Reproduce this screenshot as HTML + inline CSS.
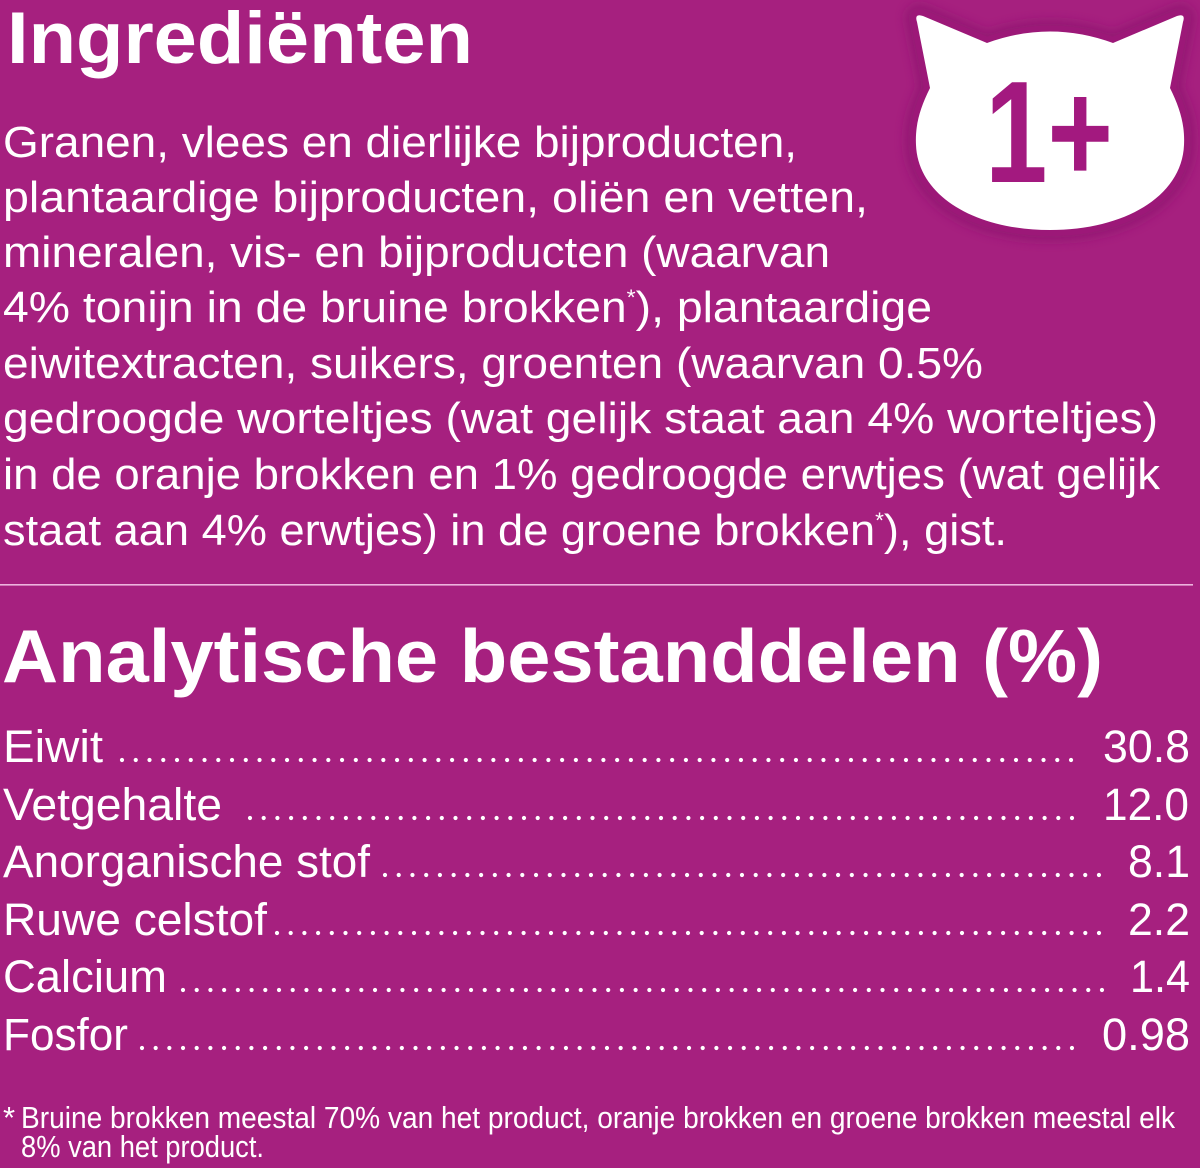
<!DOCTYPE html>
<html>
<head>
<meta charset="utf-8">
<style>
  html, body { margin: 0; padding: 0; background: #A6207F; }
  body { width: 1200px; height: 1168px; overflow: hidden; }
  svg { display: block; }
  text { font-family: "Liberation Sans", "DejaVu Sans", sans-serif; fill: #ffffff; }
</style>
</head>
<body>
<svg width="1200" height="1168" viewBox="0 0 1200 1168" xmlns="http://www.w3.org/2000/svg">
  <defs>
    <filter id="glow" x="-20%" y="-20%" width="140%" height="140%">
      <feGaussianBlur stdDeviation="5"/>
    </filter>
  </defs>
  <rect x="0" y="0" width="1200" height="1168" fill="#A6207F"/>

  <!-- Cat icon -->
  <path d="M 917 22 Q 914 13 923 16 L 987 43 Q 1050 20 1113 43 L 1177 16 Q 1186 13 1183 22 L 1170 88 C 1180 108 1185 125 1184 145 C 1182 196 1125 230 1050 230 C 975 230 918 196 916 145 C 915 125 920 108 930 88 Z"
        fill="none" stroke="#8E1270" stroke-width="22" stroke-linejoin="round" opacity="0.75" filter="url(#glow)"/>
  <path d="M 917 22 Q 914 13 923 16 L 987 43 Q 1050 20 1113 43 L 1177 16 Q 1186 13 1183 22 L 1170 88 C 1180 108 1185 125 1184 145 C 1182 196 1125 230 1050 230 C 975 230 918 196 916 145 C 915 125 920 108 930 88 Z"
        fill="none" stroke="#9C1878" stroke-width="12" stroke-linejoin="round"/>
  <path d="M 917 22 Q 914 13 923 16 L 987 43 Q 1050 20 1113 43 L 1177 16 Q 1186 13 1183 22 L 1170 88 C 1180 108 1185 125 1184 145 C 1182 196 1125 230 1050 230 C 975 230 918 196 916 145 C 915 125 920 108 930 88 Z"
        fill="#ffffff"/>
  <text x="985" y="182" font-size="145" font-weight="bold" textLength="128" lengthAdjust="spacingAndGlyphs" style="fill:#A3197F">1+</text>

  <!-- Title -->
  <text x="7" y="63" font-size="73" font-weight="bold" textLength="466" lengthAdjust="spacingAndGlyphs">Ingrediënten</text>

  <!-- Ingredients body -->
  <g font-size="44">
    <text x="3" y="157" textLength="794" lengthAdjust="spacingAndGlyphs">Granen, vlees en dierlijke bijproducten,</text>
    <text x="3" y="212" textLength="865" lengthAdjust="spacingAndGlyphs">plantaardige bijproducten, oliën en vetten,</text>
    <text x="3" y="267" textLength="827" lengthAdjust="spacingAndGlyphs">mineralen, vis- en bijproducten (waarvan</text>
    <text x="3" y="322" textLength="929" lengthAdjust="spacingAndGlyphs">4% tonijn in de bruine brokken<tspan font-size="22" dy="-17">*</tspan><tspan dy="17">), plantaardige</tspan></text>
    <text x="3" y="378" textLength="980" lengthAdjust="spacingAndGlyphs">eiwitextracten, suikers, groenten (waarvan 0.5%</text>
    <text x="3" y="433" textLength="1155" lengthAdjust="spacingAndGlyphs">gedroogde worteltjes (wat gelijk staat aan 4% worteltjes)</text>
    <text x="3" y="489" textLength="1157" lengthAdjust="spacingAndGlyphs">in de oranje brokken en 1% gedroogde erwtjes (wat gelijk</text>
    <text x="3" y="545" textLength="1004" lengthAdjust="spacingAndGlyphs">staat aan 4% erwtjes) in de groene brokken<tspan font-size="22" dy="-17">*</tspan><tspan dy="17">), gist.</tspan></text>
  </g>

  <!-- Divider -->
  <rect x="0" y="584" width="1193" height="1.6" fill="#EDB3DE"/>

  <!-- Analytical heading -->
  <text x="2" y="682" font-size="75" font-weight="bold" textLength="1101" lengthAdjust="spacingAndGlyphs">Analytische bestanddelen (%)</text>

  <!-- Table labels -->
  <g font-size="45">
    <text x="3" y="762" textLength="100" lengthAdjust="spacingAndGlyphs">Eiwit</text>
    <text x="3" y="820" textLength="219" lengthAdjust="spacingAndGlyphs">Vetgehalte</text>
    <text x="3" y="877" textLength="367" lengthAdjust="spacingAndGlyphs">Anorganische stof</text>
    <text x="3" y="935" textLength="264" lengthAdjust="spacingAndGlyphs">Ruwe celstof</text>
    <text x="3" y="992" textLength="164" lengthAdjust="spacingAndGlyphs">Calcium</text>
    <text x="3" y="1050" textLength="125" lengthAdjust="spacingAndGlyphs">Fosfor</text>

    <text x="1103" y="762" textLength="87" lengthAdjust="spacingAndGlyphs">30.8</text>
    <text x="1103" y="820" textLength="86" lengthAdjust="spacingAndGlyphs">12.0</text>
    <text x="1128" y="877" textLength="62" lengthAdjust="spacingAndGlyphs">8.1</text>
    <text x="1128" y="935" textLength="62" lengthAdjust="spacingAndGlyphs">2.2</text>
    <text x="1130" y="992" textLength="60" lengthAdjust="spacingAndGlyphs">1.4</text>
    <text x="1102" y="1050" textLength="88" lengthAdjust="spacingAndGlyphs">0.98</text>
  </g>

  <!-- Dot leaders -->
  <g stroke="#ffffff" stroke-width="4.2" stroke-linecap="round" fill="none">
    <line x1="122" y1="760" x2="1071.5" y2="760" stroke-dasharray="0 13.754"/>
    <line x1="250" y1="818" x2="1072.5" y2="818" stroke-dasharray="0 13.70"/>
    <line x1="385" y1="875" x2="1099.5" y2="875" stroke-dasharray="0 13.73"/>
    <line x1="277" y1="933" x2="1099.5" y2="933" stroke-dasharray="0 13.70"/>
    <line x1="183" y1="990" x2="1102.5" y2="990" stroke-dasharray="0 13.716"/>
    <line x1="142" y1="1048" x2="1072.5" y2="1048" stroke-dasharray="0 13.676"/>
  </g>

  <!-- Footnote -->
  <g font-size="31">
    <text x="3" y="1128">*</text>
    <text x="21" y="1128" textLength="1154" lengthAdjust="spacingAndGlyphs">Bruine brokken meestal 70% van het product, oranje brokken en groene brokken meestal elk</text>
    <text x="21" y="1157" textLength="243" lengthAdjust="spacingAndGlyphs">8% van het product.</text>
  </g>
</svg>
</body>
</html>
